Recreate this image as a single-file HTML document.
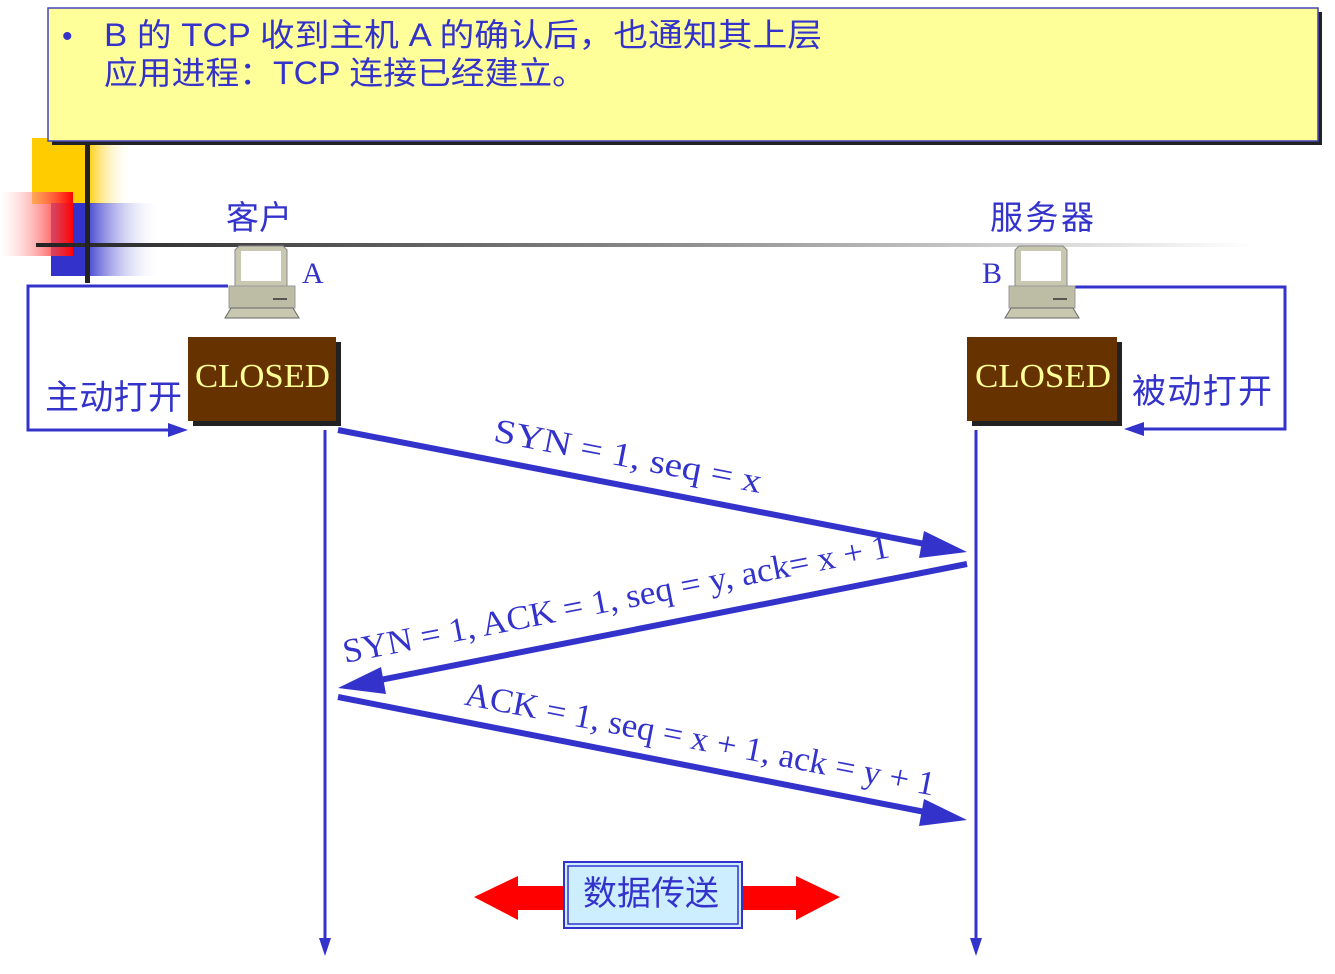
<!DOCTYPE html>
<html><head><meta charset="utf-8"><style>
html,body{margin:0;padding:0;background:#fff;}
svg text{font-family:"Liberation Sans","Noto Sans CJK SC",sans-serif;}
.s{font-family:"Liberation Serif","Noto Serif CJK SC",serif!important;}
</style></head><body>
<svg width="1335" height="969" viewBox="0 0 1335 969" xmlns="http://www.w3.org/2000/svg">
<defs>
<linearGradient id="gy" x1="0" x2="1"><stop offset="0.55" stop-color="#ffcc00"/><stop offset="1" stop-color="#fff" stop-opacity="0"/></linearGradient>
<linearGradient id="gb" x1="0" x2="1"><stop offset="0.3" stop-color="#3333cc"/><stop offset="1" stop-color="#fff" stop-opacity="0"/></linearGradient>
<linearGradient id="gr" x1="1" x2="0"><stop offset="0" stop-color="#ff0000"/><stop offset="1" stop-color="#fff" stop-opacity="0.3"/></linearGradient>
<linearGradient id="gl" x1="0" x2="1"><stop offset="0" stop-color="#222"/><stop offset="0.5" stop-color="#888"/><stop offset="1" stop-color="#fff"/></linearGradient>
<g id="pc">
<path d="M14 0 H58 L62 4 V42 H10 V4 Z" fill="#c8c8b0" stroke="#888" stroke-width="1"/>
<rect x="16" y="5" width="40" height="30" fill="#fff"/>
<rect x="4" y="40" width="66" height="22" fill="#bdbda5" stroke="#999"/>
<line x1="48" y1="53" x2="62" y2="53" stroke="#333" stroke-width="1.5"/>
<path d="M6 62 H68 L74 72 H0 Z" fill="#c8c8b0" stroke="#666"/>
</g>
</defs>
<rect x="32" y="138" width="100" height="66" fill="url(#gy)"/>
<rect x="51" y="203" width="110" height="73" fill="url(#gb)"/>
<rect x="0" y="192" width="73" height="64" fill="url(#gr)"/>
<rect x="36" y="243" width="1220" height="4" fill="url(#gl)"/>
<rect x="85" y="143" width="5" height="140" fill="#222"/>
<rect x="52" y="12" width="1270" height="133" fill="#222"/>
<rect x="48" y="8" width="1270" height="133" fill="#ffff99" stroke="#4444bb" stroke-width="1.5"/>
<text x="62" y="46" font-size="30" fill="#3333cc">•</text>
<text x="104" y="46" font-size="32" fill="#3333cc" textLength="718" lengthAdjust="spacingAndGlyphs">B 的 TCP 收到主机 A 的确认后，也通知其上层</text>
<text x="104" y="84" font-size="32" fill="#3333cc" textLength="482" lengthAdjust="spacingAndGlyphs">应用进程：TCP 连接已经建立。</text>
<text x="226" y="229" font-size="33" fill="#3333cc">客户</text>
<text x="990" y="229" font-size="33" fill="#3333cc" textLength="104">服务器</text>
<text x="302" y="283" font-size="30" fill="#3333cc" class="s">A</text>
<text x="982" y="283" font-size="30" fill="#3333cc" class="s">B</text>
<polyline points="228,286 28,286 28,430 178,430" fill="none" stroke="#3333cc" stroke-width="3"/>
<polygon points="188,430 168,423 168,437" fill="#3333cc"/>
<polyline points="1073,287 1285,287 1285,429 1134,429" fill="none" stroke="#3333cc" stroke-width="3"/>
<polygon points="1124,429 1144,422 1144,436" fill="#3333cc"/>
<use href="#pc" x="225" y="246"/>
<use href="#pc" x="1005" y="246"/>
<rect x="193" y="342" width="148" height="84" fill="#222"/>
<rect x="188" y="337" width="148" height="84" fill="#663300"/>
<text x="195" y="387" font-size="34" fill="#ffff99" class="s" textLength="135" lengthAdjust="spacingAndGlyphs">CLOSED</text>
<rect x="972" y="342" width="150" height="84" fill="#222"/>
<rect x="967" y="337" width="150" height="84" fill="#663300"/>
<text x="975" y="387" font-size="34" fill="#ffff99" class="s" textLength="136" lengthAdjust="spacingAndGlyphs">CLOSED</text>
<text x="45" y="409" font-size="34" fill="#3333cc" textLength="137">主动打开</text>
<text x="1132" y="403" font-size="34" fill="#3333cc" textLength="140">被动打开</text>
<line x1="325" y1="430" x2="325" y2="942" stroke="#3333cc" stroke-width="3"/>
<polygon points="325,956 319,938 331,938" fill="#3333cc"/>
<line x1="976" y1="430" x2="976" y2="942" stroke="#3333cc" stroke-width="3"/>
<polygon points="976,956 970,938 982,938" fill="#3333cc"/>
<line x1="338" y1="430" x2="930" y2="545" stroke="#3333cc" stroke-width="6"/>
<polygon points="967,552 924,531 919,558" fill="#3333cc"/>
<line x1="967" y1="564" x2="375" y2="681" stroke="#3333cc" stroke-width="6"/>
<polygon points="338,688 381,667 386,694" fill="#3333cc"/>
<line x1="338" y1="697" x2="930" y2="813" stroke="#3333cc" stroke-width="6"/>
<polygon points="967,820 924,799 919,826" fill="#3333cc"/>
<text class="s" font-size="34" fill="#3333cc" text-anchor="middle" textLength="272" lengthAdjust="spacingAndGlyphs" transform="translate(626,467) rotate(11)">SYN = 1, seq = x</text>
<text class="s" font-size="34" fill="#3333cc" text-anchor="middle" textLength="556" lengthAdjust="spacingAndGlyphs" transform="translate(618,610) rotate(-11)">SYN = 1, ACK = 1, seq = y, ack= x + 1</text>
<text class="s" font-size="34" fill="#3333cc" text-anchor="middle" textLength="478" lengthAdjust="spacingAndGlyphs" transform="translate(698,750) rotate(11)">ACK = 1, seq = x + 1, ack = y + 1</text>
<polygon points="474,897 518,876 518,886 570,886 570,910 518,910 518,920" fill="#ff0000"/>
<polygon points="840,897 796,876 796,886 738,886 738,910 796,910 796,920" fill="#ff0000"/>
<rect x="564" y="862" width="178" height="66" fill="#cceeff" stroke="#3333cc" stroke-width="2"/>
<rect x="568" y="866" width="170" height="58" fill="none" stroke="#3333cc" stroke-width="1.5"/>
<text x="651" y="905" font-size="34" fill="#3333cc" text-anchor="middle">数据传送</text>
</svg>
</body></html>
